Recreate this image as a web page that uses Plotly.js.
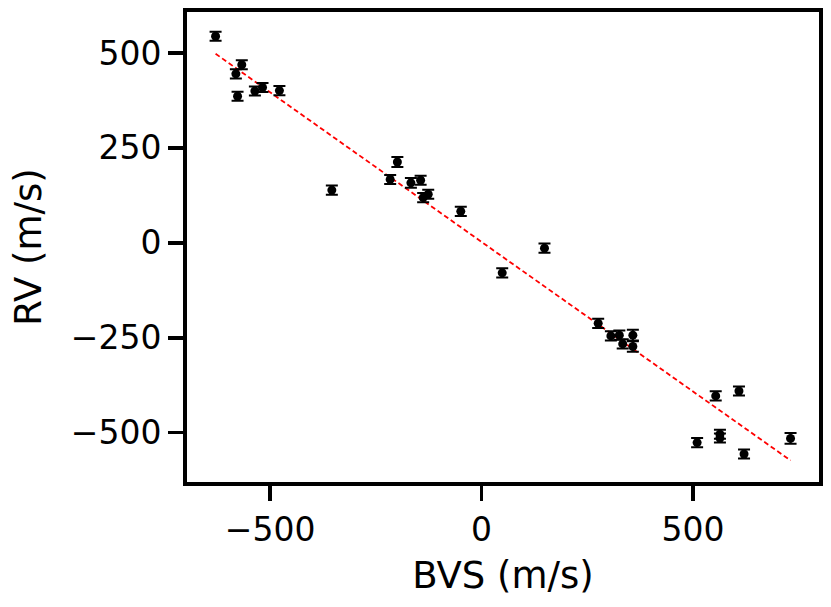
<!DOCTYPE html>
<html>
<head>
<meta charset="utf-8">
<script src="https://cdn.plot.ly/plotly-3.0.1.min.js"></script>
<style>
  html, body { margin: 0; padding: 0; background: #fff; }
  #plot { width: 831px; height: 607px; }
</style>
</head>
<body>
<div id="plot"></div>
<script>
// BVS vs RV measurements (m/s)
var bvs = [-629, -567, -581, -577, -536, -518, -478, -354, -199, -216,
           -167, -144, -138, -126, -49, 149, 49, 276, 306, 326,
           358, 334, 358, 554, 609, 510, 564, 564, 621, 731];
var rv = [544, 469, 445, 386, 400, 409, 401, 139, 213, 167,
          158, 165, 119, 128, 83, -14, -79, -212, -245, -243,
          -243, -266, -273, -403, -390, -526, -504, -514, -556, -515];
var rvErr = [12, 12, 12, 12, 12, 12, 12, 12, 13, 12,
             13, 12, 12, 12, 12, 12, 12, 12, 12, 12,
             14, 12, 14, 12, 12, 12, 12, 12, 12, 14];

// linear fit endpoints
var fitX = [-629, 731];
var fitY = [498, -573];

var points = {
  x: bvs,
  y: rv,
  mode: "markers",
  type: "scatter",
  marker: { color: "#000000", size: 9 },
  error_y: { type: "data", array: rvErr, visible: true, color: "#000000", thickness: 2, width: 6 },
  showlegend: false
};

var fit = {
  x: fitX,
  y: fitY,
  mode: "lines",
  type: "scatter",
  line: { color: "#ff0000", width: 1.8, dash: "5px,3px" },
  showlegend: false
};

var axisFont = { family: "DejaVu Sans", size: 33, color: "#000" };

var layout = {
  width: 831,
  height: 607,
  margin: { l: 187, r: 12, t: 12, b: 125 },
  paper_bgcolor: "#fff",
  plot_bgcolor: "#fff",
  font: { family: "DejaVu Sans", color: "#000" },
  xaxis: {
    range: [-696.6, 798.3],
    tickvals: [-500, 0, 500],
    ticktext: ["\u2212500", "0", "500"],
    ticks: "outside", ticklen: 15, tickwidth: 3.5, tickcolor: "#000",
    showline: true, linewidth: 4, linecolor: "#000", mirror: true,
    showgrid: false, zeroline: false,
    tickfont: axisFont,
    title: { text: "BVS (m/s)", font: { family: "DejaVu Sans", size: 37, color: "#000" }, standoff: 16 }
  },
  yaxis: {
    range: [-629.7, 607.9],
    tickvals: [-500, -250, 0, 250, 500],
    ticktext: ["\u2212500", "\u2212250", "0", "250", "500"],
    ticks: "outside", ticklen: 15, tickwidth: 3.5, tickcolor: "#000",
    showline: true, linewidth: 4, linecolor: "#000", mirror: true,
    showgrid: false, zeroline: false,
    tickfont: axisFont,
    title: { text: "RV (m/s)", font: { family: "DejaVu Sans", size: 37, color: "#000" }, standoff: 19 }
  }
};

Plotly.newPlot("plot", [fit, points], layout, { displayModeBar: false, staticPlot: true });
</script>
</body>
</html>
